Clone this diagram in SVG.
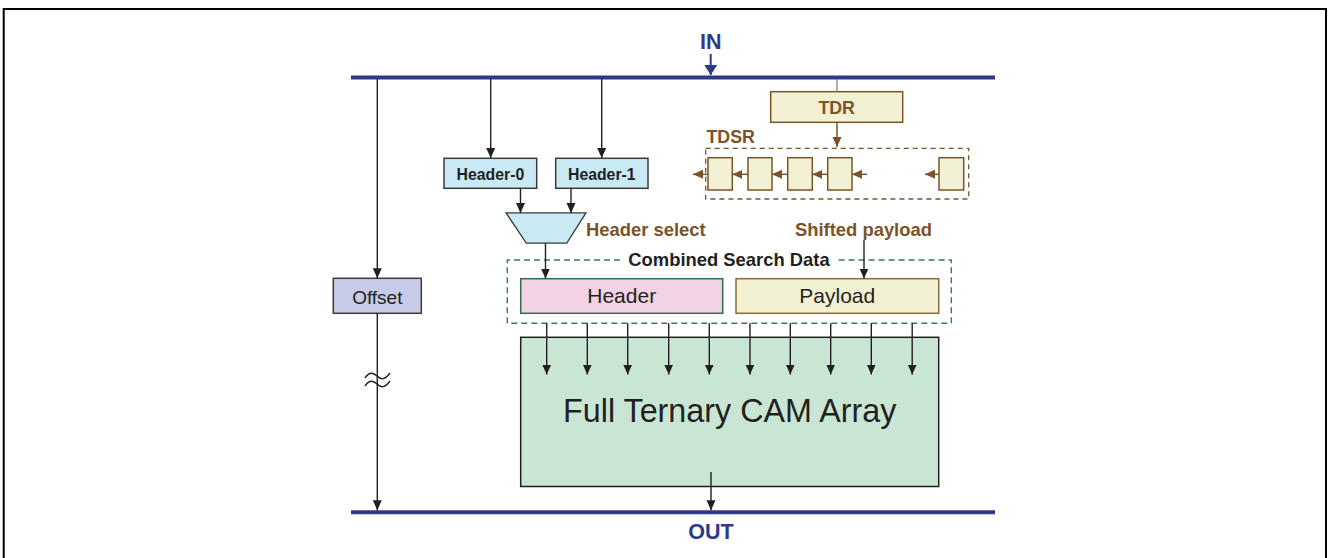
<svg xmlns="http://www.w3.org/2000/svg" width="1329" height="558" viewBox="0 0 1329 558">
<style>
  .bus{stroke:#2E3A87;stroke-width:4;fill:none}
  .wire{stroke:#231F20;stroke-width:1.4;fill:none}
  .bwire{stroke:#7A5427;stroke-width:1.5;fill:none}
  .lbl{font-family:"Liberation Sans",Arial,sans-serif;font-weight:bold;fill:#231F20}
  .brn{font-family:"Liberation Sans",Arial,sans-serif;font-weight:bold;fill:#7A5427}
  .nav{font-family:"Liberation Sans",Arial,sans-serif;font-weight:bold;fill:#2E3A87;font-size:21.5px}
  .reg{fill:#F3F1D3;stroke:#7A5427;stroke-width:1.5}
  .txt{font-family:"Liberation Sans",Arial,sans-serif;fill:#231F20}
</style>
<defs>
  <marker id="ab" markerUnits="userSpaceOnUse" markerWidth="10" markerHeight="10" refX="10" refY="5" orient="auto"><path d="M0,0.5 L10,5 L0,9.5 z" fill="#231F20"/></marker>
  <marker id="abr" markerUnits="userSpaceOnUse" markerWidth="10" markerHeight="10" refX="10" refY="5" orient="auto"><path d="M0,0.5 L10,5 L0,9.5 z" fill="#7A5427"/></marker>
  <marker id="an" markerUnits="userSpaceOnUse" markerWidth="12" markerHeight="14" refX="10" refY="7" orient="auto"><path d="M0,0.5 L10,7 L0,13.5 z" fill="#2E3A87"/></marker>
</defs>

<path d="M3.7,558 V9 H1326 V558" fill="none" stroke="#000" stroke-width="2"/>

<g id="buses">
  <line class="bus" x1="351" y1="77.5" x2="995" y2="77.5"/>
  <line class="bus" x1="351" y1="512.3" x2="995" y2="512.3"/>
  <text class="nav" x="710.7" y="48.5" text-anchor="middle">IN</text>
  <text class="nav" x="711" y="538.5" text-anchor="middle">OUT</text>
</g>

<g id="header0">
  <rect x="444" y="158.3" width="92.7" height="30" fill="#C9E9F4" stroke="#3a3a3a" stroke-width="1.5"/>
  <text class="lbl" x="490.4" y="179.5" font-size="15.8" text-anchor="middle">Header-0</text>
</g>
<g id="header1">
  <rect x="555.7" y="158.3" width="92.3" height="30" fill="#C9E9F4" stroke="#3a3a3a" stroke-width="1.5"/>
  <text class="lbl" x="601.8" y="179.5" font-size="15.8" text-anchor="middle">Header-1</text>
</g>
<g id="mux">
  <polygon points="506,212.8 586,212.8 566.8,243.2 526.3,243.2" fill="#C9E9F4" stroke="#3a3a3a" stroke-width="1.3"/>
  <text class="brn" x="586" y="236" font-size="18.4">Header select</text>
</g>
<g id="tdr">
  <rect x="770.7" y="91.7" width="132" height="30.6" fill="#F3F1D3" stroke="#7A5427" stroke-width="1.5"/>
  <text class="brn" x="836.7" y="113.5" font-size="17.8" text-anchor="middle">TDR</text>
</g>
<g id="tdsr">
  <text class="brn" x="706.5" y="143.3" font-size="17.8">TDSR</text>
  <rect x="705.7" y="148.3" width="263" height="50.7" fill="none" stroke="#7A5427" stroke-width="1.3" stroke-dasharray="5,4"/>
  <rect class="reg" x="708" y="157.7" width="24.3" height="32.3"/>
  <rect class="reg" x="748" y="157.7" width="24" height="32.3"/>
  <rect class="reg" x="787.7" y="157.7" width="24.6" height="32.3"/>
  <rect class="reg" x="827.7" y="157.7" width="24.3" height="32.3"/>
  <rect class="reg" x="939" y="157.7" width="24.7" height="32.3"/>
</g>
<g id="shifted-payload-label">
  <text class="brn" x="795" y="236" font-size="18.4">Shifted payload</text>
</g>
<g id="combined">
  <path d="M620,260 H507.3 V323.3 H951.3 V260 H838" fill="none" stroke="#3A7A5A" stroke-width="1.4" stroke-dasharray="6,4"/>
  <text class="lbl" x="729" y="265.5" font-size="18.4" text-anchor="middle">Combined Search Data</text>
</g>
<g id="header">
  <rect x="520.7" y="278.7" width="202" height="34.6" fill="#F2D3E5" stroke="#2E6B4F" stroke-width="1.5"/>
  <text class="txt" x="621.7" y="303" font-size="21" text-anchor="middle">Header</text>
</g>
<g id="payload">
  <rect x="736" y="278.7" width="202.7" height="34.6" fill="#F3F1D3" stroke="#8B6B3B" stroke-width="1.5"/>
  <text class="txt" x="837.3" y="303" font-size="21" text-anchor="middle">Payload</text>
</g>
<g id="offset">
  <rect x="333.3" y="278.3" width="88" height="35" fill="#C6CBE8" stroke="#3a3a3a" stroke-width="1.5"/>
  <text class="txt" x="377.3" y="304" font-size="19" text-anchor="middle">Offset</text>
</g>
<g id="cam">
  <rect x="520.7" y="337.3" width="418" height="149.2" fill="#C9E6D5" stroke="#231F20" stroke-width="1.5"/>
  <text class="txt" x="729.7" y="421.7" font-size="32.3" text-anchor="middle">Full Ternary CAM Array</text>
</g>

<g id="connectors">
  <line x1="710.7" y1="54" x2="710.7" y2="75" stroke="#2E3A87" stroke-width="2" marker-end="url(#an)"/>
  <line class="wire" x1="490.7" y1="79" x2="490.7" y2="158" marker-end="url(#ab)"/>
  <line class="wire" x1="601.7" y1="79" x2="601.7" y2="158" marker-end="url(#ab)"/>
  <line class="wire" x1="520.5" y1="188" x2="520.5" y2="213" marker-end="url(#ab)"/>
  <line class="wire" x1="571" y1="188" x2="571" y2="213" marker-end="url(#ab)"/>
  <line class="wire" x1="545.5" y1="243" x2="545.5" y2="278.5" marker-end="url(#ab)"/>
  <line class="wire" x1="864" y1="240" x2="864" y2="278.5" marker-end="url(#ab)"/>
  <line x1="837" y1="79" x2="837" y2="92" stroke="#8a7a68" stroke-width="1.2"/>
  <line class="bwire" x1="837" y1="122" x2="837" y2="147" marker-end="url(#abr)"/>
  <line class="bwire" x1="708" y1="174.3" x2="693" y2="174.3" marker-end="url(#abr)"/>
  <line class="bwire" x1="748" y1="174.3" x2="732.3" y2="174.3" marker-end="url(#abr)"/>
  <line class="bwire" x1="788" y1="174.3" x2="772" y2="174.3" marker-end="url(#abr)"/>
  <line class="bwire" x1="828" y1="174.3" x2="812.3" y2="174.3" marker-end="url(#abr)"/>
  <line class="bwire" x1="867" y1="174.3" x2="852" y2="174.3" marker-end="url(#abr)"/>
  <line class="bwire" x1="939" y1="174.3" x2="925" y2="174.3" marker-end="url(#abr)"/>
  <line class="wire" x1="377.3" y1="79" x2="377.3" y2="278.3" marker-end="url(#ab)"/>
  <line class="wire" x1="377.3" y1="313.3" x2="377.3" y2="510.3" marker-end="url(#ab)"/>
  <path d="M365,378 c4,-6 8,-6 12,-2 s8,4 13,-3 M365,386 c4,-6 8,-6 12,-2 s8,4 13,-3" class="wire" stroke-width="1.1"/>
  <g class="wire">
    <line x1="546.7" y1="323.3" x2="546.7" y2="374.5" marker-end="url(#ab)"/>
    <line x1="587.3" y1="323.3" x2="587.3" y2="374.5" marker-end="url(#ab)"/>
    <line x1="627.7" y1="323.3" x2="627.7" y2="374.5" marker-end="url(#ab)"/>
    <line x1="668.7" y1="323.3" x2="668.7" y2="374.5" marker-end="url(#ab)"/>
    <line x1="709.3" y1="323.3" x2="709.3" y2="374.5" marker-end="url(#ab)"/>
    <line x1="750" y1="323.3" x2="750" y2="374.5" marker-end="url(#ab)"/>
    <line x1="790.3" y1="323.3" x2="790.3" y2="374.5" marker-end="url(#ab)"/>
    <line x1="830.7" y1="323.3" x2="830.7" y2="374.5" marker-end="url(#ab)"/>
    <line x1="871.3" y1="323.3" x2="871.3" y2="374.5" marker-end="url(#ab)"/>
    <line x1="912.2" y1="323.3" x2="912.2" y2="374.5" marker-end="url(#ab)"/>
  </g>
  <line class="wire" x1="711" y1="472" x2="711" y2="510.3" marker-end="url(#ab)"/>
</g>
</svg>
